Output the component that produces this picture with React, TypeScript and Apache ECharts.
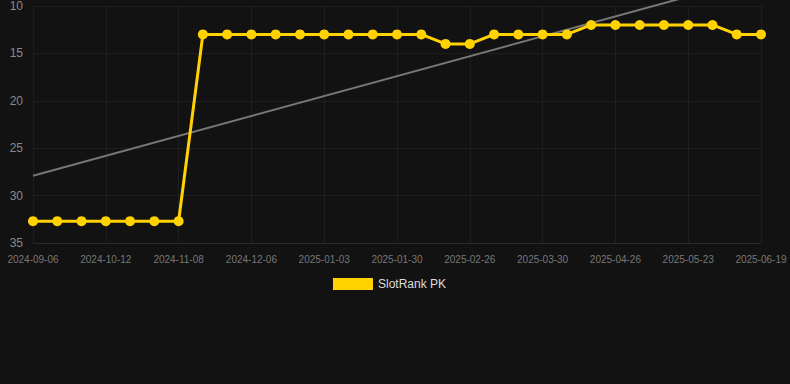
import React, { useEffect, useRef } from "react";
import * as echarts from "echarts";

const dates = [
  "2024-09-06", "2024-09-18", "2024-09-30", "2024-10-12", "2024-10-21", "2024-10-30",
  "2024-11-08", "2024-11-17", "2024-11-26", "2024-12-06", "2024-12-15", "2024-12-24",
  "2025-01-03", "2025-01-12", "2025-01-21", "2025-01-30", "2025-02-08", "2025-02-17",
  "2025-02-26", "2025-03-07", "2025-03-18", "2025-03-30", "2025-04-08", "2025-04-17",
  "2025-04-26", "2025-05-05", "2025-05-14", "2025-05-23", "2025-06-01", "2025-06-10",
  "2025-06-19",
];

const rankValues = [
  32.7, 32.7, 32.7, 32.7, 32.7, 32.7, 32.7,
  13, 13, 13, 13, 13, 13, 13, 13, 13, 13,
  14, 14,
  13, 13, 13, 13,
  12, 12, 12, 12, 12, 12,
  13, 13,
];

const trendValues: (number | null)[] = [
  27.9, null, null, null, null, null, null, null, null, null, null, null, null, null, null,
  null, null, null, null, null, null, null, null, null, null, null, null, null, null, null,
  6.9,
];

export default function App() {
  const ref = useRef<HTMLDivElement>(null);
  useEffect(() => {
    document.body.style.margin = "0";
    document.body.style.background = "#121212";
    if (!ref.current) return;
    const chart = echarts.init(ref.current, undefined, { renderer: "svg" });
    chart.setOption({
      animation: false,
      backgroundColor: "#121212",
      grid: { left: 33, right: 29, top: 6, height: 237 },
      legend: {
        data: [{ name: "SlotRank PK", icon: "rect" }],
        top: 273,
        left: 328,
        itemWidth: 40,
        itemHeight: 12,
        itemGap: 10,
        textStyle: { color: "#dddddd", fontSize: 12, fontFamily: "Liberation Sans, Arial, sans-serif" },
      },
      xAxis: {
        type: "category",
        data: dates,
        boundaryGap: false,
        axisLine: { lineStyle: { color: "#2a2a2a" } },
        axisTick: { show: false },
        axisLabel: {
          interval: 2,
          color: "#777777",
          fontSize: 10,
          margin: 11,
          fontFamily: "Liberation Sans, Arial, sans-serif",
        },
        splitLine: { show: true, interval: 2, lineStyle: { color: "#1e1e1e" } },
      },
      yAxis: {
        type: "value",
        inverse: true,
        min: 10,
        max: 35,
        interval: 5,
        axisLine: { show: false },
        axisTick: { show: false },
        axisLabel: {
          color: "#8a8a8a",
          fontSize: 12,
          margin: 10,
          fontFamily: "Liberation Sans, Arial, sans-serif",
        },
        splitLine: { lineStyle: { color: "#1e1e1e" } },
      },
      series: [
        {
          name: "SlotRank PK",
          type: "line",
          data: rankValues,
          symbol: "circle",
          symbolSize: 10,
          itemStyle: { color: "#FFD200" },
          lineStyle: { color: "#FFD200", width: 3 },
          z: 3,
        },
        {
          name: "Trend",
          type: "line",
          data: trendValues,
          connectNulls: true,
          clip: false,
          showSymbol: false,
          symbol: "none",
          lineStyle: { color: "#777777", width: 2 },
          itemStyle: { color: "#777777" },
          z: 2,
        },
      ],
    });
    return () => chart.dispose();
  }, []);
  return <div ref={ref} style={{ width: 790, height: 384 }} />;
}
